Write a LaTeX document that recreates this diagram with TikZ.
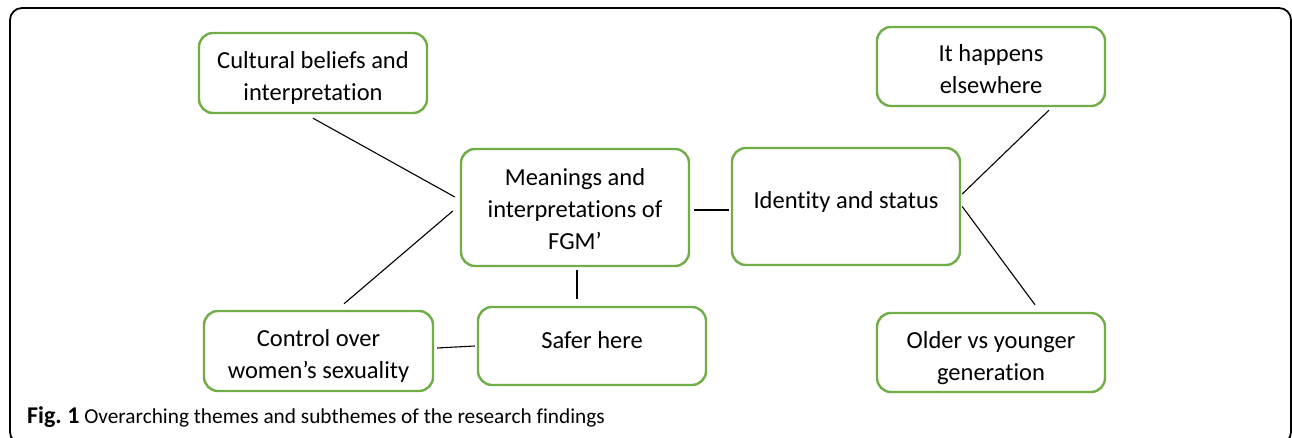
\documentclass[tikz,border=0pt]{standalone}
\usepackage{fontspec}
\setmainfont{Carlito}[Ligatures=NoCommon]
\definecolor{boxgreen}{RGB}{112,173,71}
\newcommand{\boxtext}[2]{\setbox0=\hbox{\begin{tabular}{@{}c@{}}#2\end{tabular}}\raisebox{#1}[\ht0][\dp0]{\copy0}}
\begin{document}
\begin{tikzpicture}[x=1pt,y=1pt,
  theme/.style={draw=boxgreen, line width=2.4pt, rounded corners=14pt, fill=white,
    align=center, inner sep=0pt, minimum width=228pt,
    font=\fontsize{24.5}{32}\selectfont},
  link/.style={draw=black, line width=1.1pt}]
\useasboundingbox (0,0) rectangle (1292,438);
\draw[line width=1.8pt, rounded corners=12pt] (10,-6) rectangle (1291,430);

\node[theme, minimum height=80pt] (cult) at (313,365) {\boxtext{-5pt}{Cultural beliefs and\\interpretation}};
\node[theme, minimum height=79pt] (happ) at (991,371.5) {\boxtext{-5pt}{It happens\\elsewhere}};
\node[theme, minimum height=117pt] (mean) at (575,230.5) {\boxtext{-3.5pt}{Meanings and\\interpretations of\\FGM’}};
\node[theme, minimum height=117pt] (iden) at (846,231.5) {\boxtext{4pt}{Identity and status}};
\node[theme, minimum height=80pt, minimum width=229pt] (ctrl) at (318.5,87) {\boxtext{-5pt}{Control over\\women’s sexuality}};
\node[theme, minimum height=78pt] (safe) at (592,92) {\boxtext{4pt}{Safer here}};
\node[theme, minimum height=79pt] (oldr) at (991,85.5) {\boxtext{-6pt}{Older vs younger\\generation}};

\draw[link] ([yshift=-4pt]cult.south) -- ([xshift=-5pt,yshift=10.5pt]mean.west);
\draw[link] ([xshift=25.5pt,yshift=6pt]ctrl.north) -- ([xshift=-7pt,yshift=-3.5pt]mean.west);
\draw[link] ([xshift=4pt,yshift=-2.5pt]mean.east) -- ([xshift=-2pt,yshift=-3.5pt]iden.west);
\draw[link] ([xshift=2pt,yshift=-3pt]mean.south) -- ([xshift=-15pt,yshift=7pt]safe.north);
\draw[link] ([xshift=3pt,yshift=3pt]ctrl.east) -- ([xshift=-2pt]safe.west);
\draw[link] ([xshift=1pt,yshift=12.5pt]iden.east) -- ([xshift=58pt,yshift=-3pt]happ.south);
\draw[link] ([xshift=1pt]iden.east) -- ([xshift=44pt,yshift=7pt]oldr.north);

\node[anchor=base west, inner sep=0pt, font=\fontsize{21.3}{24}\selectfont] (cap) at (27,14)
  {{\fontsize{24}{24}\selectfont\bfseries Fig.\ 1} Overarching themes and subthemes of the research findings};
\end{tikzpicture}
\end{document}
